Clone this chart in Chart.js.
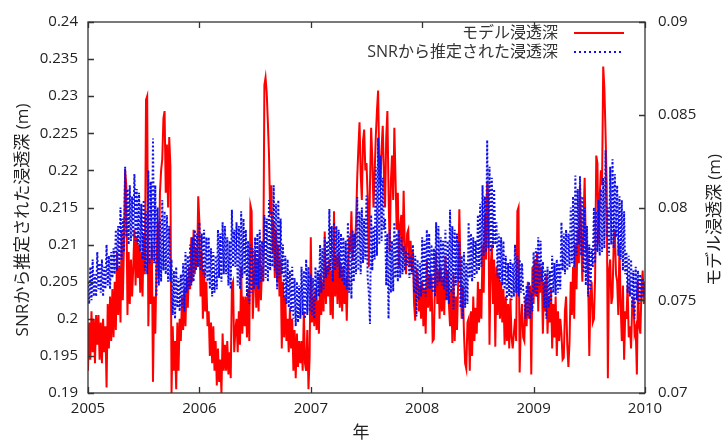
<!DOCTYPE html>
<html>
<head>
<meta charset="utf-8">
<script src="https://cdn.jsdelivr.net/npm/chart.js@4.4.1/dist/chart.umd.min.js"></script>
<style>
html,body{margin:0;padding:0;background:#fff;}
#wrap{width:722px;height:446px;}
</style>
</head>
<body>
<div id="wrap"><canvas id="c" width="722" height="446"></canvas></div>
<script>
// ---- data (8 samples per month, 2005-01 .. 2010-01) ----
const xTickValues = [2005, 2006, 2007, 2008, 2009, 2010];
const leftTickValues = [0.19, 0.195, 0.2, 0.205, 0.21, 0.215, 0.22, 0.225, 0.23, 0.235, 0.24];
const rightTickValues = [0.07, 0.075, 0.08, 0.085, 0.09];
const seriesNames = ['モデル浸透深', 'SNRから推定された浸透深'];
const leftTitle = 'SNRから推定された浸透深 (m)';
const rightTitle = 'モデル浸透深 (m)';
const xTitle = '年';

// model penetration depth (m), right axis
const model2005 = [
  .0712,.0738,.0718,.0744,.0722,.074,.0716,.0742, .0726,.0742,.0718,.0738,.0716,.074,.0722,.0736,
  .0703,.0748,.0724,.0752,.0728,.0756,.073,.076, .0734,.0776,.0742,.0768,.0738,.0788,.075,.078,
  .082,.0812,.0742,.0776,.0748,.0772,.0752,.0768, .0788,.0758,.0784,.0762,.078,.0754,.0776,.0752,
  .0786,.0764,.0858,.086,.0736,.0772,.0748,.078, .0706,.0752,.0732,.0768,.0792,.0762,.0808,.082,
  .0826,.0848,.0852,.0808,.0834,.08,.0838,.0822, .070,.0736,.0712,.0728,.0702,.0738,.0712,.074,
  .0728,.0752,.0734,.0756,.0736,.0762,.0746,.0768, .0756,.0784,.076,.0788,.0764,.0778,.0768,.0806];
const model2006 = [
  .0792,.0752,.0776,.074,.0766,.0744,.076,.0736, .0744,.072,.0738,.0716,.0736,.0712,.0728,.0704,
  .0724,.0706,.0718,.070,.0732,.0712,.0726,.0712, .0728,.071,.0722,.0708,.0758,.076,.0722,.0734,
  .074,.0722,.0744,.0726,.0768,.0732,.0752,.0736, .0752,.073,.0756,.0728,.0801,.0798,.074,.0758,
  .0776,.0746,.0772,.0744,.078,.075,.0768,.076, .0866,.087,.0862,.0846,.0828,.0796,.0812,.0776,
  .0792,.0762,.0788,.076,.078,.0752,.0772,.0724, .076,.073,.0752,.0728,.074,.0722,.0746,.0724,
  .074,.0712,.0734,.0708,.0732,.0714,.0728,.0716, .0728,.0712,.0744,.0716,.0712,.0734,.0702,.072];
const model2007 = [
  .0784,.0738,.0752,.0736,.0756,.0734,.075,.0732, .0764,.0742,.076,.0744,.0787,.0748,.0768,.0752,
  .0772,.0742,.0766,.074,.0798,.0752,.0774,.0748, .0776,.0746,.077,.0744,.0768,.0748,.0762,.0739,
  .0768,.0784,.0776,.0798,.0772,.0786,.0778,.0792, .0816,.0832,.0846,.0818,.0804,.0836,.0842,.082,
  .0824,.0806,.0768,.0812,.0843,.0826,.08,.0818, .0838,.0852,.0863,.0824,.0812,.0832,.0844,.0818,
  .08,.0838,.0852,.0808,.0776,.0814,.0828,.0804, .0843,.0816,.0788,.0808,.0768,.079,.0796,.0776,
  .0809,.078,.0764,.0786,.0788,.0768,.0782,.0766, .0776,.0748,.0739,.0766,.0764,.0744,.0758,.074];
const model2008 = [
  .076,.0736,.0756,.0732,.0772,.0746,.0764,.0744, .0764,.0728,.0729,.0758,.0776,.0748,.0766,.074,
  .0768,.0744,.0762,.0742,.0774,.075,.0766,.0748, .0736,.0756,.0727,.0764,.0728,.0752,.0734,.076,
  .0799,.0766,.074,.0758,.0732,.0716,.0713,.0738, .074,.0712,.0744,.072,.0752,.0728,.0746,.0732,
  .076,.0738,.0756,.074,.078,.0754,.0796,.0772, .0814,.0804,.0726,.0768,.078,.0748,.0772,.0725,
  .0768,.0742,.0764,.074,.076,.0738,.0756,.0726, .0752,.0728,.0748,.0724,.0751,.073,.0724,.0732,
  .074,.0728,.0798,.08,.0711,.0738,.0748,.073, .0728,.0752,.0736,.076,.074,.0758,.071,.0768];
const model2009 = [
  .0748,.0772,.0752,.0776,.0744,.077,.0754,.0768, .0732,.076,.0744,.0764,.0732,.0752,.0738,.0756,
  .0724,.0748,.073,.0752,.072,.0744,.0728,.074, .0732,.0718,.0719,.0744,.0752,.0726,.0714,.0728,
  .076,.0742,.0768,.074,.078,.0756,.0788,.077, .0812,.0784,.076,.0792,.0816,.0778,.078,.0762,
  .072,.0752,.076,.0738,.074,.0762,.0828,.0824, .078,.0806,.082,.0812,.0876,.0864,.084,.0812,
  .0708,.0766,.0772,.0748,.0752,.078,.0788,.0764, .076,.0742,.078,.0748,.0728,.0758,.0718,.0744,
  .074,.0758,.073,.0736,.0724,.0748,.0752,.0732, .0735,.071,.076,.0736,.0732,.0756,.0766,.0748];
const modelEnd = [.076];

// SNR-estimated penetration depth (m), left axis
const snr2005 = [
  .205,.202,.207,.2025,.208,.203,.206,.203, .209,.204,.2075,.2035,.208,.203,.207,.204,
  .21,.2045,.2085,.204,.209,.2055,.2095,.206, .212,.2065,.2125,.207,.215,.208,.2135,.209,
  .2205,.211,.2175,.21,.218,.2105,.2165,.211, .2195,.2105,.2175,.21,.217,.209,.2155,.208,
  .216,.2065,.2145,.206,.22,.2075,.2185,.208, .2243,.2075,.218,.203,.215,.2045,.2135,.205,
  .216,.2065,.2145,.206,.214,.205,.2125,.205, .208,.2005,.2065,.2,.207,.2015,.2055,.201,
  .206,.2015,.2075,.201,.209,.2035,.2085,.204, .21,.2045,.211,.205,.212,.2065,.2115,.207];
const snr2006 = [
  .213,.2065,.2115,.206,.212,.2055,.211,.205, .211,.204,.2095,.203,.209,.2035,.2085,.204,
  .212,.2055,.2115,.205,.213,.206,.2125,.206, .211,.2045,.2105,.204,.2147,.207,.212,.207,
  .213,.2045,.2125,.204,.2145,.2055,.2135,.206, .212,.203,.2105,.202,.21,.2035,.2095,.204,
  .211,.2045,.2115,.204,.212,.205,.2105,.205, .214,.2055,.2135,.205,.216,.2065,.2145,.207,
  .218,.2065,.2155,.204,.216,.2055,.2135,.206, .21,.2025,.2085,.202,.208,.2015,.2065,.201,
  .207,.2,.2055,.199,.205,.1995,.2045,.2, .207,.2005,.2065,.2,.208,.2005,.207,.201];
const snr2007 = [
  .206,.2005,.2055,.2,.207,.2025,.2065,.203, .21,.2035,.2095,.204,.211,.2055,.2105,.206,
  .2148,.2065,.2125,.205,.213,.2065,.2125,.207, .212,.2055,.2115,.205,.211,.2045,.2105,.204,
  .213,.2035,.2115,.2027,.212,.205,.2115,.206, .2164,.2065,.2145,.206,.215,.2075,.2135,.208,
  .2166,.2055,.2035,.1993,.214,.2065,.2125,.208, .2205,.2085,.2244,.21,.222,.2105,.219,.212,
  .2135,.2045,.2115,.2,.212,.2035,.2105,.2037, .213,.2055,.2115,.205,.212,.2055,.211,.206,
  .2098,.2065,.2092,.2072,.209,.2055,.2085,.206, .21,.2035,.2085,.2003,.208,.2025,.2075,.203];
const snr2008 = [
  .211,.2035,.2105,.203,.212,.204,.2115,.204, .21,.2035,.2095,.203,.213,.2045,.2125,.205,
  .211,.2045,.2105,.204,.212,.2025,.2105,.202, .2147,.2035,.2125,.2013,.212,.2045,.2115,.205,
  .2104,.2015,.2085,.2,.209,.2015,.2075,.202, .213,.2055,.2115,.205,.211,.2055,.2105,.206,
  .214,.2065,.2155,.207,.218,.2085,.2165,.209, .2241,.2095,.2205,.209,.219,.2095,.2175,.21,
  .213,.2055,.2115,.205,.211,.2045,.2105,.204, .2085,.2025,.2075,.203,.208,.2025,.2075,.203,
  .21,.2035,.2085,.203,.208,.2035,.2075,.204, .203,.2,.2045,.2005,.205,.2,.2035,.201];
const snr2009 = [
  .209,.2035,.2095,.203,.211,.2045,.2105,.205, .2077,.2015,.2065,.2,.207,.2015,.2065,.202,
  .2085,.2035,.2075,.2032,.208,.2035,.2075,.204, .213,.2065,.2115,.206,.212,.2065,.2115,.207,
  .215,.2075,.2165,.207,.2193,.2085,.2175,.21, .2192,.2085,.2165,.2062,.215,.2045,.2125,.203,
  .21,.204,.2095,.207,.215,.2075,.2145,.209, .216,.2085,.2175,.209,.219,.2095,.2227,.211,
  .215,.2085,.2205,.21,.2215,.2095,.2195,.211, .218,.2085,.2165,.208,.216,.2065,.2145,.206,
  .209,.2035,.2085,.203,.208,.2015,.2065,.2, .207,.2025,.2065,.202,.206,.2025,.2055,.203];
const snrEnd = [.205];

const modelValues = [].concat(model2005, model2006, model2007, model2008, model2009, modelEnd);
const snrValues = [].concat(snr2005, snr2006, snr2007, snr2008, snr2009, snrEnd);
const samplesPerYear = 96;
const toPoints = arr => arr.map((v, i) => ({ x: xTickValues[0] + i / samplesPerYear, y: v }));

const FONT = "'Open Sans', 'Noto Sans CJK JP', sans-serif";
const TXT = '#222';
const RED = '#ff0000';
const BLUE = '#1010e8';

const decor = {
  id: 'decor',
  afterDatasetsDraw(chart) {
    const { ctx, chartArea: a, scales } = chart;
    ctx.save();
    ctx.strokeStyle = '#333';
    ctx.lineWidth = 1.3;
    const tl = 6;
    ctx.beginPath();
    xTickValues.forEach(v => {
      const px = Math.round(scales.x.getPixelForValue(v)) + 0.5;
      ctx.moveTo(px, a.bottom); ctx.lineTo(px, a.bottom - tl);
      ctx.moveTo(px, a.top); ctx.lineTo(px, a.top + tl);
    });
    leftTickValues.forEach(v => {
      const py = Math.round(scales.yL.getPixelForValue(v)) + 0.5;
      ctx.moveTo(a.left, py); ctx.lineTo(a.left + tl, py);
    });
    rightTickValues.forEach(v => {
      const py = Math.round(scales.yR.getPixelForValue(v)) + 0.5;
      ctx.moveTo(a.right, py); ctx.lineTo(a.right - tl, py);
    });
    ctx.stroke();
    ctx.strokeRect(a.left, a.top, a.right - a.left, a.bottom - a.top);

    // legend
    ctx.font = '16px ' + FONT;
    ctx.fillStyle = '#333';
    ctx.textAlign = 'right';
    ctx.textBaseline = 'middle';
    const lx = 558, ly = [33, 52];
    ctx.fillText(seriesNames[0], lx, ly[0]);
    ctx.fillText(seriesNames[1], lx, ly[1]);
    ctx.lineWidth = 2;
    ctx.strokeStyle = RED;
    ctx.setLineDash([]);
    ctx.beginPath(); ctx.moveTo(574, ly[0]); ctx.lineTo(624, ly[0]); ctx.stroke();
    ctx.strokeStyle = BLUE;
    ctx.setLineDash([2, 3]);
    ctx.beginPath(); ctx.moveTo(574, ly[1]); ctx.lineTo(624, ly[1]); ctx.stroke();
    ctx.setLineDash([]);
    ctx.restore();
  },
  afterDraw(chart) {
    const { ctx } = chart;
    ctx.save();
    ctx.fillStyle = TXT;
    ctx.font = '17px ' + FONT;
    ctx.textAlign = 'center';
    ctx.textBaseline = 'middle';
    ctx.save(); ctx.translate(23, 220); ctx.rotate(-Math.PI / 2); ctx.fillText(leftTitle, 0, 0); ctx.restore();
    ctx.save(); ctx.translate(715, 220); ctx.rotate(-Math.PI / 2); ctx.fillText(rightTitle, 0, 0); ctx.restore();
    ctx.fillText(xTitle, 361, 433);
    ctx.restore();
  }
};

const fmt = v => String(+Number(v).toFixed(3));
const tickFont = { family: FONT, size: 15 };

new Chart(document.getElementById('c'), {
  type: 'line',
  data: {
    datasets: [
      { label: seriesNames[0], data: toPoints(modelValues), yAxisID: 'yR', borderColor: RED, borderWidth: 2,
        pointRadius: 0, tension: 0, order: 1 },
      { label: seriesNames[1], data: toPoints(snrValues), yAxisID: 'yL', borderColor: BLUE, borderWidth: 2,
        borderDash: [2, 2], pointRadius: 0, tension: 0, order: 0 }
    ]
  },
  options: {
    responsive: false,
    animation: false,
    layout: { padding: { top: 18, left: 0, right: 0, bottom: 0 } },
    plugins: { legend: { display: false }, tooltip: { enabled: false }, title: { display: false } },
    scales: {
      x: {
        type: 'linear', min: 2005, max: 2010,
        afterBuildTicks: s => { s.ticks = xTickValues.map(v => ({ value: v })); },
        afterFit: s => { s.height = 53; },
        ticks: { callback: v => String(v), font: tickFont, color: TXT, padding: 7, maxRotation: 0, autoSkip: false },
        grid: { display: false, drawTicks: false }, border: { display: false }
      },
      yL: {
        position: 'left', min: 0.19, max: 0.24,
        afterBuildTicks: s => { s.ticks = leftTickValues.map(v => ({ value: v })); },
        afterFit: s => { s.width = 88; },
        ticks: { callback: fmt, font: tickFont, color: TXT, padding: 10, autoSkip: false },
        grid: { display: false, drawTicks: false }, border: { display: false }
      },
      yR: {
        position: 'right', min: 0.07, max: 0.09,
        afterBuildTicks: s => { s.ticks = rightTickValues.map(v => ({ value: v })); },
        afterFit: s => { s.width = 77; },
        ticks: { callback: fmt, font: tickFont, color: TXT, padding: 13, autoSkip: false },
        grid: { display: false, drawTicks: false }, border: { display: false }
      }
    }
  },
  plugins: [decor]
});
</script>
</body>
</html>
